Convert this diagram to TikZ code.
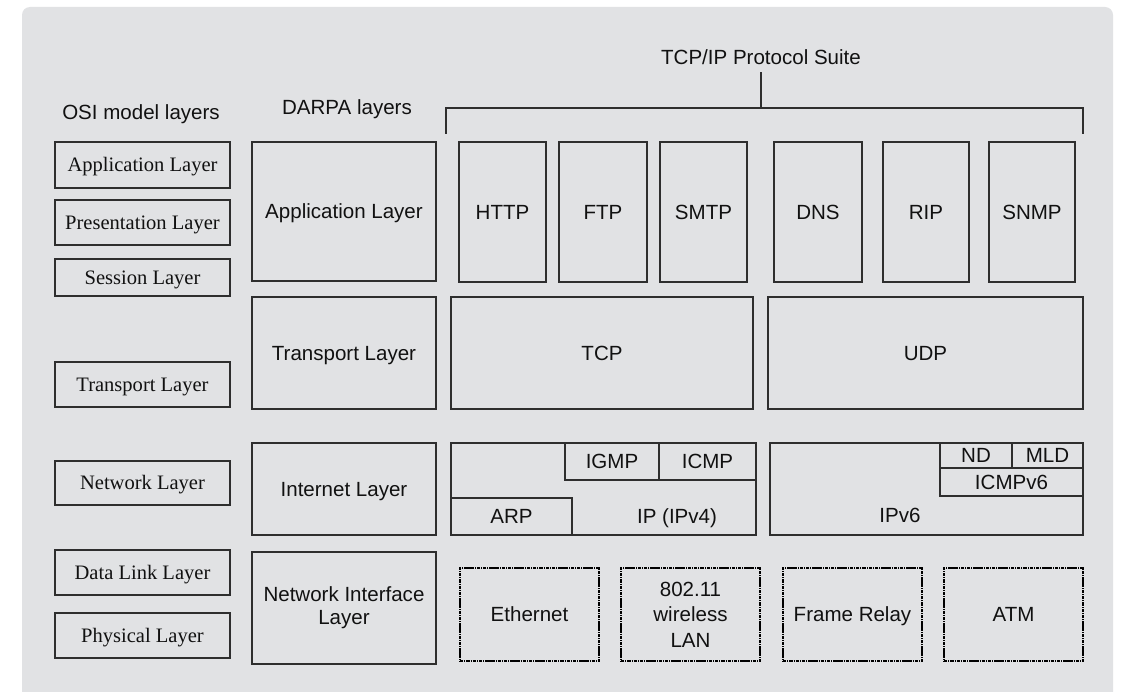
\documentclass[tikz,border=0pt]{standalone}
\usepackage{fontspec}
\setmainfont{Liberation Sans}
\newfontfamily\osifont{Liberation Serif}
\definecolor{panel}{HTML}{E1E2E4}
\definecolor{ink}{HTML}{2E2E2E}
\definecolor{txt}{HTML}{111111}

% A framed box given by its corners (in pixel units) and its label
\newcommand\pbox[7][]{%
  \node[box,#1,minimum width={(#5-#3)*0.75pt},minimum height={(#6-#4)*0.75pt}]
    (#2) at ({(#3+#5)/2},{(#4+#6)/2}) {#7};}

\tikzset{
  box/.style={draw=ink, line width=1pt, inner sep=0pt, outer sep=0pt,
    text=txt, font=\fontsize{15.4}{17.25}\selectfont,
    text height=11pt, text depth=0pt},
  osibox/.style={box, font=\osifont\fontsize{15.4}{17.25}\selectfont,
    text height=10.2pt},
  linkbox/.style={box, draw=black, line width=1.1pt,
    dash pattern=on 2.6pt off 0.6pt on 0.9pt off 0.6pt},
  multi/.style={align=center, text height={}, text depth={}},
  lbl/.style={inner sep=0pt, text=txt, font=\fontsize{15.4}{17.25}\selectfont,
    text height=11pt, text depth=0pt},
  bracket/.style={draw=ink, line width=1pt}
}

\begin{document}
\begin{tikzpicture}[x=0.75pt,y=-0.75pt]
  \useasboundingbox (0,0) rectangle (1122,692);
  \clip (0,0) rectangle (1122,692);
  \fill[white] (0,0) rectangle (1122,692);
  \fill[panel, rounded corners=6pt] (22,7) rectangle (1113,730);

  % column headings
  \node[lbl] (osiTitle) at (141,112) {OSI model layers};
  \node[lbl] (darpaTitle) at (347,107) {DARPA layers};
  \node[lbl] (suiteTitle) at (761,57) {TCP/IP Protocol Suite};

  % bracket over the protocol suite
  \coordinate (bL) at (446,134);
  \coordinate (bTL) at (446,108);
  \coordinate (bTR) at (1083,108);
  \coordinate (bR) at (1083,134);
  \coordinate (bS) at (761,108);
  \coordinate (bTop) at (761,72);
  \draw[bracket] (bL) -- (bTL) -- (bTR) -- (bR);
  \draw[bracket] (bS) -- (bTop);

  % OSI model layers
  \pbox[osibox]{osiApp}{55}{142}{230}{188}{Application Layer}
  \pbox[osibox]{osiPres}{55}{200}{230}{245}{Presentation Layer}
  \pbox[osibox]{osiSess}{55}{259}{230}{296}{Session Layer}
  \pbox[osibox]{osiTrans}{55}{362}{230}{407}{Transport Layer}
  \pbox[osibox]{osiNet}{55}{461}{230}{505}{Network Layer}
  \pbox[osibox]{osiLink}{55}{550}{230}{595}{Data Link Layer}
  \pbox[osibox]{osiPhys}{55}{613}{230}{658}{Physical Layer}

  % DARPA layers
  \pbox{dApp}{252}{142}{436}{281}{Application Layer}
  \pbox{dTrans}{252}{297}{436}{409}{Transport Layer}
  \pbox{dNet}{252}{443}{436}{535}{Internet Layer}
  \pbox[multi,yshift=-1.5pt]{dLink}{252}{550}{436}{662}{Network Interface\\Layer}

  % application protocols
  \pbox{http}{459}{142}{546}{282}{HTTP}
  \pbox{ftp}{559}{142}{647}{282}{FTP}
  \pbox{smtp}{660}{142}{747}{282}{SMTP}
  \pbox{dns}{774}{142}{862}{282}{DNS}
  \pbox{rip}{883}{142}{969}{282}{RIP}
  \pbox{snmp}{989}{142}{1075}{282}{SNMP}

  % transport protocols
  \pbox{tcp}{451}{297}{753}{409}{TCP}
  \pbox{udp}{768}{297}{1083}{409}{UDP}

  % IPv4 block
  \pbox{ipv4}{451}{443}{756}{535}{}
  \pbox{igmp}{565}{443}{659}{480}{IGMP}
  \pbox{icmp}{659}{443}{756}{480}{ICMP}
  \pbox{arp}{451}{498}{572}{535}{ARP}
  \node[lbl] (ipv4lbl) at (677,516) {IP (IPv4)};

  % IPv6 block
  \pbox{ipv6}{770}{443}{1083}{535}{}
  \pbox{nd}{940}{443}{1012}{468}{ND}
  \pbox{mld}{1012}{443}{1083}{468}{MLD}
  \pbox{icmpv6}{940}{468}{1083}{496}{ICMPv6}
  \node[lbl] (ipv6lbl) at (900,515) {IPv6};

  % link technologies
  \pbox[linkbox]{eth}{460}{568}{599}{661}{Ethernet}
  \pbox[linkbox,multi,font=\fontsize{15.4}{19}\selectfont]{wlan}{621}{568}{760}{661}{802.11\\wireless\\LAN}
  \pbox[linkbox]{frelay}{783}{568}{922}{661}{Frame Relay}
  \pbox[linkbox]{atm}{944}{568}{1083}{661}{ATM}
\end{tikzpicture}
\end{document}
